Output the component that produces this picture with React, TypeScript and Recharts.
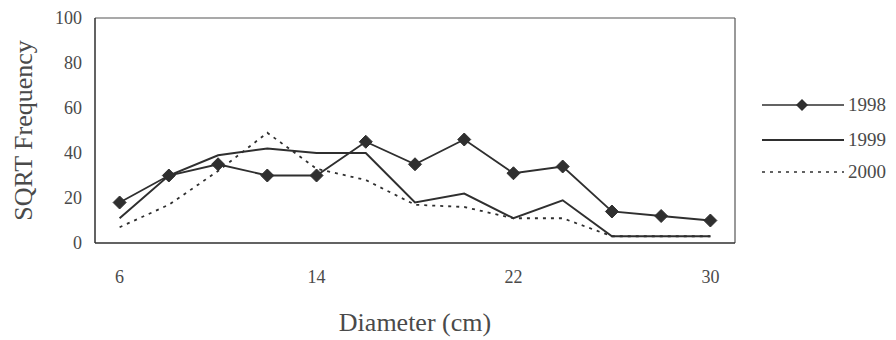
import React from 'react';
import { LineChart, Line, XAxis, YAxis, ReferenceLine } from 'recharts';

const diameters = [6, 8, 10, 12, 14, 16, 18, 20, 22, 24, 26, 28, 30];
const freq1998 = [18, 30, 35, 30, 30, 45, 35, 46, 31, 34, 14, 12, 10];
const freq1999 = [11, 30, 39, 42, 40, 40, 18, 22, 11, 19, 3, 3, 3];
const freq2000 = [7, 17, 32, 49, 33, 28, 17, 16, 11, 11, 3, 3, 3];
const xTicks = [6, 14, 22, 30];
const yTicks = [0, 20, 40, 60, 80, 100];
const seriesNames = ['1998', '1999', '2000'];

const data = diameters.map((d, i) => ({
  d,
  y1998: freq1998[i],
  y1999: freq1999[i],
  y2000: freq2000[i],
}));

const FONT = '"Liberation Serif", "Times New Roman", serif';
const INK = '#2f2f2f';
const TEXT = '#4a4a4a';

const DiamondDot = (props: any) => {
  const { cx, cy, index } = props;
  if (cx == null || cy == null) return null;
  const r = 6.5;
  return (
    <polygon
      key={`dot-${index}`}
      points={`${cx},${cy - r} ${cx + r},${cy} ${cx},${cy + r} ${cx - r},${cy}`}
      fill={INK}
      stroke={INK}
    />
  );
};

// legend sits outside the chart so it doesn't eat plot height
const LegendBox = () => {
  const rowY = [15, 50, 82];
  return (
    <svg width={140} height={100}>
      {seriesNames.map((name, i) => (
        <g key={name}>
          <line
            x1={2}
            x2={84}
            y1={rowY[i]}
            y2={rowY[i]}
            stroke={INK}
            strokeWidth={i === 1 ? 2 : 1.5}
            strokeDasharray={i === 2 ? '3 5' : undefined}
          />
          {i === 0 && (
            <polygon points={`42,${rowY[i] - 6} 48,${rowY[i]} 42,${rowY[i] + 6} 36,${rowY[i]}`} fill={INK} />
          )}
          <text x={88} y={rowY[i] + 6} fontSize={19} fill={TEXT} fontFamily={FONT}>
            {name}
          </text>
        </g>
      ))}
    </svg>
  );
};

export default function App() {
  return (
    <div style={{ width: 896, height: 340, background: '#fff', position: 'relative' }}>
      <style>{'body{margin:0}'}</style>
      <LineChart
        width={896}
        height={340}
        data={data}
        margin={{ top: 18, right: 161, bottom: 0, left: 0 }}
        style={{ fontFamily: FONT }}
      >
        <XAxis
          dataKey="d"
          type="number"
          domain={[5, 31]}
          ticks={xTicks}
          tickLine={false}
          tickSize={0}
          tickMargin={27}
          height={97}
          axisLine={{ stroke: INK, strokeWidth: 1.5 }}
          tick={{ fill: TEXT, fontSize: 18, fontFamily: FONT }}
          label={{ value: 'Diameter (cm)', position: 'insideBottom', offset: 9, fill: TEXT, fontSize: 26, fontFamily: FONT }}
        />
        <YAxis
          domain={[0, 100]}
          ticks={yTicks}
          width={95}
          tickLine={false}
          tickSize={0}
          tickMargin={13}
          axisLine={{ stroke: INK, strokeWidth: 1.5 }}
          tick={{ fill: TEXT, fontSize: 18, fontFamily: FONT }}
          label={{
            value: 'SQRT Frequency',
            angle: -90,
            position: 'insideLeft',
            offset: 23,
            fill: TEXT,
            fontSize: 26,
            fontFamily: FONT,
            style: { textAnchor: 'middle' },
          }}
        />
        <ReferenceLine y={100} stroke="#555" strokeWidth={1.2} />
        <ReferenceLine x={31} stroke="#555" strokeWidth={1.2} />
        <Line
          dataKey="y2000"
          stroke={INK}
          strokeWidth={1.8}
          strokeDasharray="3 5"
          dot={false}
          isAnimationActive={false}
        />
        <Line dataKey="y1999" stroke={INK} strokeWidth={2} dot={false} isAnimationActive={false} />
        <Line
          dataKey="y1998"
          stroke={INK}
          strokeWidth={1.8}
          dot={<DiamondDot />}
          isAnimationActive={false}
        />
      </LineChart>
      <div style={{ position: 'absolute', left: 760, top: 90 }}>
        <LegendBox />
      </div>
    </div>
  );
}
